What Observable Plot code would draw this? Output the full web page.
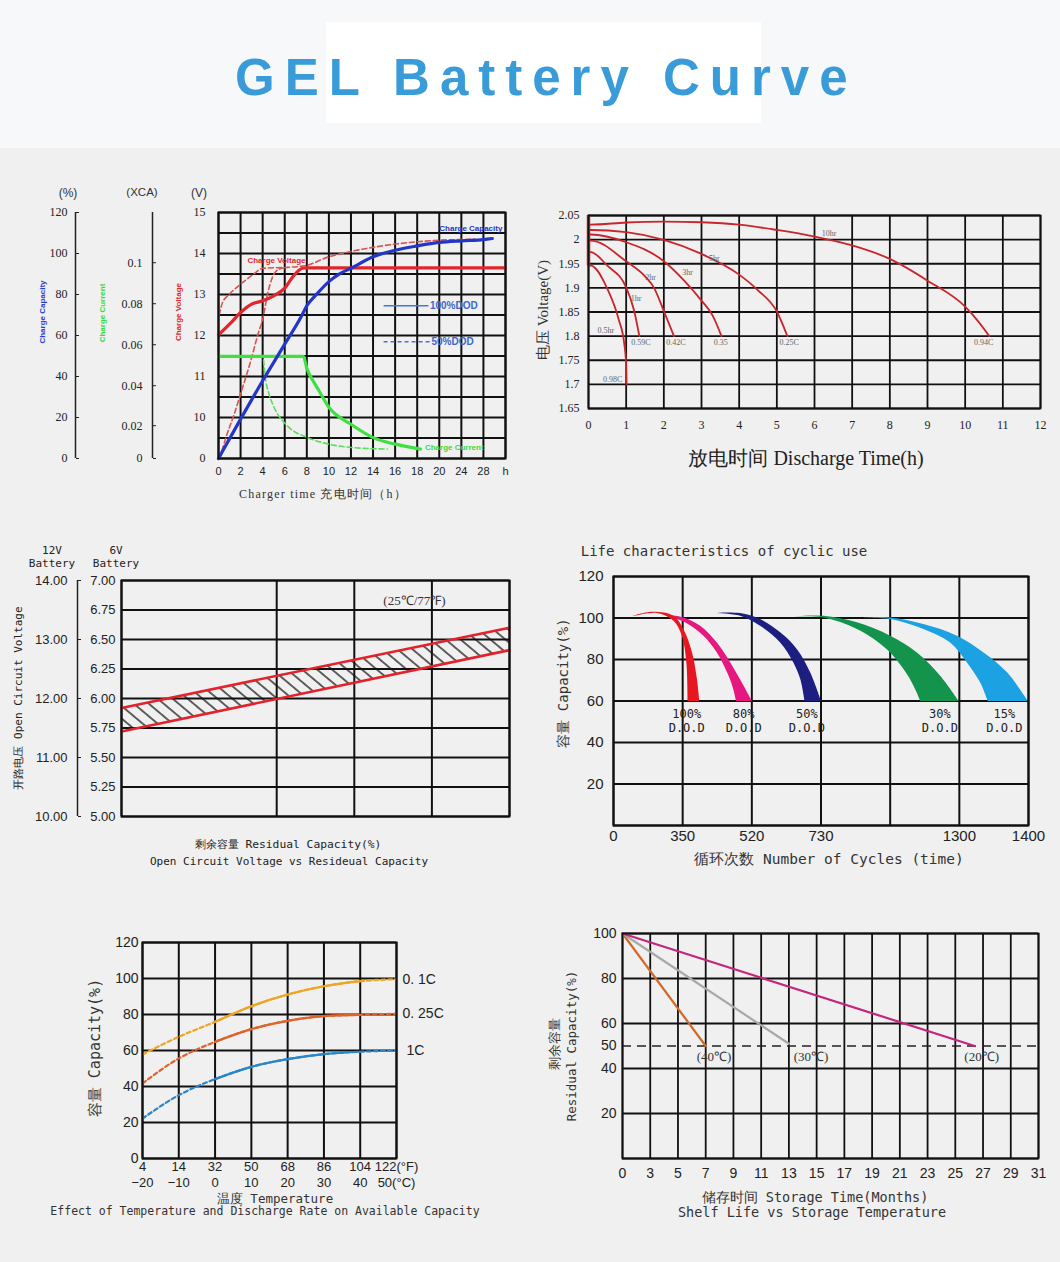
<!DOCTYPE html>
<html>
<head>
<meta charset="utf-8">
<title>GEL Battery Curve</title>
<script src="https://cdn.jsdelivr.net/npm/d3@7"></script>
<script src="https://cdn.jsdelivr.net/npm/@observablehq/plot@0.6"></script>
<style>
  html, body { margin: 0; padding: 0; }
  body { width: 1060px; height: 1262px; background: #f0f0f0; position: relative; overflow: hidden; }
  #header { position: absolute; left: 0; top: 0; width: 1060px; height: 148px; background: #f6f8fa; }
  #box { position: absolute; left: 326px; top: 22px; width: 435px; height: 101px; background: #ffffff; }
  #title { position: absolute; left: 235px; top: 52px; margin: 0; font: bold 51px/51px "Liberation Sans", Arial, sans-serif; letter-spacing: 10px; color: #3a9bd9; white-space: nowrap; }
  .lbl { position: absolute; white-space: nowrap; color: #222; line-height: 1; }
</style>
</head>
<body>
<div id="header"><div id="box"></div><h1 id="title">GEL Battery Curve</h1></div>
<svg width="0" height="0" style="position:absolute;left:0;top:0">
  <defs>
    <pattern id="hatch" patternUnits="userSpaceOnUse" width="10" height="9.6" patternTransform="rotate(40)">
      <line x1="0" y1="4.8" x2="10" y2="4.8" stroke="#111" stroke-width="1.3"/>
    </pattern>
  </defs>
</svg>
<script>
const SANS = '"Liberation Sans", Arial, Helvetica, sans-serif';
const SERIF = '"Liberation Serif", "Times New Roman", serif';
const MONO = '"DejaVu Sans Mono", "Liberation Mono", monospace';
const GRID = "#111";

// ---------------- Chart 1: charging characteristics ----------------
const chargeHourTicks = [0, 2, 4, 6, 8, 10, 12, 14, 16, 18, 20, 24, 28, 32];
const chargeHourLabels = ["0", "2", "4", "6", "8", "10", "12", "14", "16", "18", "20", "24", "28", "h"];
const chargeGridPct = [0, 10, 20, 30, 40, 50, 60, 70, 80, 90, 100, 110, 120];
const capacityTicks = [0, 20, 40, 60, 80, 100, 120];
const voltTickPos = [0, 20, 40, 60, 80, 100, 120];
const voltTickLabels = ["0", "10", "11", "12", "13", "14", "15"];
const xcaTickPos = [0, 16, 35.5, 55.5, 75.5, 95.5];
const xcaTickLabels = ["0", "0.02", "0.04", "0.06", "0.08", "0.1"];
// [hours, position on the % grid]
const capacity100 = [[0,0],[2,19.2],[4,37.9],[6,55.8],[7.5,69.3],[8,74.5],[8.9,80.2],[10,86.3],[11,90.2],[12,92.8],[14,98.4],[16,101.6],[18,103.7],[20,105.4],[24,106.2],[28,106.8],[29.6,107.3]];
const capacity50 = [[0.12,0],[0.66,10],[1.42,21.6],[2.18,34.6],[2.92,47.6],[3.58,60.7],[4.04,68.8],[4.44,80.2],[4.88,88.3],[5.5,92.4],[6.24,93.2]];
const voltage100 = [[0,60.3],[1,65.5],[2,71.2],[3,75.3],[4,76.9],[5,79.3],[6,83.1],[6.8,89.1],[7.6,92.8],[8,93],[32,93]];
const voltage50 = [[0.06,70],[0.36,76],[0.96,80],[2,85],[3.2,90],[4,92.8],[6,93.2],[7.8,94],[10,98.4],[12,101],[14,103],[16,104.6],[18,105.7],[20,106.5],[24,106.8],[26.4,107]];
const current100 = [[0,49.8],[7.7,49.8],[8,44],[8.5,38.5],[9,34],[10,25],[12,16.7],[14,10.2],[16,7],[18.3,4.6]];
const current50 = [[0,49.8],[4,49.8],[4.28,37.9],[4.58,31.4],[5.04,24.9],[6.24,15.9],[8.06,10.2],[10,7],[12,5.4],[15.3,4.6]];
const dodLegend = [
  {text: "100%DOD", y: 74.5, x1: 15, x2: 19.06},
  {text: "50%DOD", y: 56.9, x1: 15, x2: 19.2}
];
const chargeSeriesLabels = [
  {text: "Charge Capacity", x: 20, y: 112.2, color: "#2436c8"},
  {text: "Charge Voltage", x: 2.62, y: 96.7, color: "#e3262b"},
  {text: "Charge Current", x: 18.7, y: 5.4, color: "#3bd83b"}
];

// ---------------- Chart 2: discharge curves ----------------
const dischargeHours = [0,1,2,3,4,5,6,7,8,9,10,11,12];
const dischargeVolts = [1.65,1.7,1.75,1.8,1.85,1.9,1.95,2.0,2.05];
const discharge10hr = [[0.06,2.031],[1,2.0355],[2,2.0375],[3,2.036],[4,2.031],[5,2.02],[6,2.0064],[7,1.988],[8,1.96],[9,1.915],[10,1.861],[10.33,1.832],[10.64,1.8]];
const discharge5hr = [[0.06,2.02],[1,2.0154],[2,1.9995],[3,1.9704],[4,1.9275],[4.5,1.895],[5,1.851],[5.28,1.8]];
const discharge3hr = [[0.06,2.0106],[1,1.9946],[2,1.9552],[2.54,1.915],[3,1.8735],[3.3,1.842],[3.53,1.8]];
const discharge2hr = [[0.06,1.998],[1,1.955],[1.5,1.924],[1.74,1.9],[2.0,1.852],[2.27,1.8]];
const discharge1hr = [[0.06,1.974],[0.5,1.946],[1,1.901],[1.21,1.853],[1.35,1.8]];
const discharge05hr = [[0.06,1.946],[0.5,1.898],[0.8,1.835],[0.95,1.784],[1.0,1.74],[1.01,1.7]];
const dischargeCurves = [discharge10hr, discharge5hr, discharge3hr, discharge2hr, discharge1hr, discharge05hr];
const dischargeLabels = [
  {text: "10hr", x: 6.39, y: 2.012}, {text: "0.94C", x: 10.49, y: 1.787},
  {text: "5hr", x: 3.34, y: 1.96}, {text: "0.25C", x: 5.33, y: 1.787},
  {text: "3hr", x: 2.63, y: 1.932}, {text: "0.35", x: 3.51, y: 1.787},
  {text: "2hr", x: 1.65, y: 1.921}, {text: "0.42C", x: 2.32, y: 1.787},
  {text: "1hr", x: 1.26, y: 1.878}, {text: "0.59C", x: 1.39, y: 1.787},
  {text: "0.5hr", x: 0.46, y: 1.811}, {text: "0.98C", x: 0.64, y: 1.711}
];

// ---------------- Chart 3: open circuit voltage ----------------
const residualCapacity = [0, 100];
const ocvUpper6V = [5.92, 6.60];
const ocvLower6V = [5.72, 6.41];
const ocv6VTicks = [5.0, 5.25, 5.5, 5.75, 6.0, 6.25, 6.5, 6.75, 7.0];
const ocv12VPos = [5.0, 5.5, 6.0, 6.5, 7.0];
const ocv12VLabels = ["10.00", "11.00", "12.00", "13.00", "14.00"];
const residualGrid = [0, 40, 60, 80, 100];
const ocvNote = [{text: "(25℃/77℉)", x: 75.5, y: 6.83}];

// ---------------- Chart 4: cycle life ----------------
const cycleTicks = [0, 350, 520, 730, 1015, 1300, 1400];
const cycleLabels = ["0", "350", "520", "730", "", "1300", "1400"];
const cycleCapTicks = [20, 40, 60, 80, 100, 120];
const cycleGrid = [0, 20, 40, 60, 80, 100, 120];
const dodBands = [
  {dod: "15%", color: "#1ca2e2", labelX: 1365, start: [905,100.3],
   outer: [[1015,100.3],[1152,97.1],[1290,91.5],[1335,83.4],[1369,73.8],[1399,60]],
   inner: [[1015,99.5],[1152,94.7],[1262,88.2],[1311,78.6],[1330,69.0],[1341,60]]},
  {dod: "30%", color: "#14934c", labelX: 1220, start: [652,100.8],
   outer: [[740,101.1],[878,97.9],[1015,91.5],[1125,83.4],[1221,72.2],[1297,60]],
   inner: [[740,100.3],[878,94.7],[1001,85.0],[1070,75.4],[1111,67.4],[1139,60]]},
  {dod: "50%", color: "#1c1f80", labelX: 687, start: [434,102.4],
   outer: [[491,102.4],[545,99.5],[606,93.1],[657,85.0],[697,73.8],[730,60]],
   inner: [[491,101.1],[545,96.3],[606,88.2],[646,78.6],[667,70.6],[680,60]]},
  {dod: "80%", color: "#e6177f", labelX: 500, start: [270,101.4],
   outer: [[352,100.3],[393,96.3],[434,88.2],[467,78.6],[495,69.0],[520,60]],
   inner: [[360,97.5],[401,91.4],[434,83.4],[459,73.8],[473,66.6],[481,60]]},
  {dod: "100%", color: "#e8161e", labelX: 360, start: [93,100.8],
   outer: [[194,103.0],[303,101.1],[352,94.6],[373,83.4],[385,70.6],[391,60]],
   inner: [[219,102.4],[303,98.7],[346,91.5],[359,78.6],[362,60]]}
];

// ---------------- Chart 5: temperature effect ----------------
const tempC = [-20, -10, 0, 10, 20, 30, 40, 50];
const tempCLabels = ["−20", "−10", "0", "10", "20", "30", "40", "50(°C)"];
const tempFLabels = ["4", "14", "32", "50", "68", "86", "104", "122(°F)"];
const tempCapTicks = [0, 20, 40, 60, 80, 100, 120];
const cap01C = [57.8, 67.6, 75.9, 84.6, 91.1, 95.7, 98.5, 99.6];
const cap025C = [41.7, 55.6, 64.8, 71.9, 76.5, 79.1, 79.8, 80.4];
const cap1C = [22.2, 35.2, 44.1, 50.9, 55.2, 58.0, 59.3, 60.0];
const rateSeries = [
  {name: "0. 1C", values: cap01C, color: "#eda522", dx: 6},
  {name: "0. 25C", values: cap025C, color: "#e0632a", dx: 6},
  {name: "1C", values: cap1C, color: "#2a86c9", dx: 10}
];

// ---------------- Chart 6: shelf life ----------------
const storageTicks = [0, 3, 5, 7, 9, 11, 13, 15, 17, 19, 21, 23, 25, 27, 29, 31];
const storageCapTicks = [20, 40, 50, 60, 80, 100];
const storageGrid = [0, 20, 40, 60, 80, 100];
const shelfSeries = [
  {temp: "(40℃)", months: [0, 7], capacity: [100, 50], color: "#d0692a", labelMonth: 7.6},
  {temp: "(30℃)", months: [0, 13], capacity: [100, 51], color: "#a8a8a8", labelMonth: 14.6},
  {temp: "(20℃)", months: [0, 26.4], capacity: [100, 50], color: "#c4267c", labelMonth: 26.9}
];

// ---------------- helpers ----------------
const root = document.body;
function place(svg, left, top) {
  svg.style.position = "absolute";
  svg.style.left = left + "px";
  svg.style.top = top + "px";
  root.appendChild(svg);
}
function label(txt, cx, cy, style = {}, rot = 0) {
  const d = document.createElement("div");
  d.className = "lbl";
  d.textContent = txt;
  Object.assign(d.style, {left: cx + "px", top: cy + "px", transform: `translate(-50%,-50%) rotate(${rot}deg)`}, style);
  root.appendChild(d);
}
const baseStyle = {background: "transparent", overflow: "visible", color: "#222"};
// axis positions for the non-uniform category axes (grid column index)
const hourPos = d3.scaleLinear().domain([0, 20, 32]).range([0, 10, 13]);
const cyclePos = d3.scaleLinear().domain(cycleTicks).range(cycleTicks.map((_, i) => i));
const monthPos = d3.scaleLinear().domain([0, 3, 31]).range([0, 1, 15]);
const pl = (data, opts) => Plot.line(data, {x: d => d[0], y: d => d[1], ...opts});
const plH = (data, opts) => Plot.line(data, {x: d => hourPos(d[0]), y: d => d[1], ...opts});

// ---------------- Chart 1 ----------------
const c1 = Plot.plot({
  width: 530, height: 330, marginLeft: 218, marginRight: 25, marginTop: 32, marginBottom: 52,
  style: {...baseStyle, fontFamily: SANS},
  x: {domain: [0, 13], label: null},
  y: {domain: [0, 120], label: null},
  marks: [
    Plot.ruleX(chargeHourTicks, {x: d => hourPos(d), stroke: GRID, strokeWidth: 2}),
    Plot.ruleY(chargeGridPct, {stroke: GRID, strokeWidth: 2}),
    plH(capacity50, {stroke: "#d9534f", strokeWidth: 1.6, strokeDasharray: "5,3", curve: "monotone-x"}),
    plH(voltage50, {stroke: "#d9534f", strokeWidth: 1.6, strokeDasharray: "5,3", curve: "monotone-x"}),
    plH(current50, {stroke: "#5bdc5b", strokeWidth: 1.6, strokeDasharray: "5,3", curve: "monotone-x"}),
    plH(current100, {stroke: "#3fe03f", strokeWidth: 3.2, curve: "monotone-x"}),
    plH(voltage100, {stroke: "#e3262b", strokeWidth: 3.2, curve: "monotone-x"}),
    plH(capacity100, {stroke: "#2436c8", strokeWidth: 3.2, curve: "monotone-x"}),
    Plot.ruleY([dodLegend[0]], {y: "y", x1: d => hourPos(d.x1), x2: d => hourPos(d.x2), stroke: "#3f79e0", strokeWidth: 1.5}),
    Plot.ruleY([dodLegend[1]], {y: "y", x1: d => hourPos(d.x1), x2: d => hourPos(d.x2), stroke: "#3f79e0", strokeWidth: 1.5, strokeDasharray: "4,3"}),
    Plot.text(dodLegend, {x: d => hourPos(d.x2), y: "y", text: "text", textAnchor: "start", dx: 1, fill: "#3a66d0", fontWeight: "bold", fontSize: 10, fontFamily: SANS}),
    ...chargeSeriesLabels.map(l => Plot.text([l], {x: d => hourPos(d.x), y: "y", text: "text", textAnchor: "start", fill: l.color, fontWeight: "bold", fontSize: 8, fontFamily: SANS})),
    Plot.frame({stroke: GRID, strokeWidth: 2}),
    Plot.axisX(chargeHourTicks.map(d => hourPos(d)), {tickSize: 0, tickPadding: 9, tickFormat: (d, i) => chargeHourLabels[i], fontSize: 11, fontFamily: SANS}),
    Plot.axisY(voltTickPos, {anchor: "left", tickSize: 0, tickPadding: 13, tickFormat: d => voltTickLabels[voltTickPos.indexOf(d)], fontSize: 12, fontFamily: SERIF}),
    Plot.ruleX([0], {dx: -143, stroke: "#222", strokeWidth: 1.5}),
    Plot.axisY(capacityTicks, {anchor: "left", tickSize: 0, tickPadding: 8, dx: -143, fontSize: 12, fontFamily: SERIF}),
    Plot.axisY(capacityTicks, {anchor: "right", tickSize: 3, dx: -430, tickFormat: () => ""}),
    Plot.ruleX([0], {dx: -66, stroke: "#222", strokeWidth: 1.5}),
    Plot.axisY(xcaTickPos, {anchor: "left", tickSize: 0, tickPadding: 10, dx: -66, tickFormat: d => xcaTickLabels[xcaTickPos.indexOf(d)], fontSize: 12, fontFamily: SERIF}),
    Plot.axisY(xcaTickPos, {anchor: "right", tickSize: 3, dx: -353, tickFormat: () => ""})
  ]
});
place(c1, 0, 180);
label("(%)", 68, 193, {fontFamily: SANS, fontSize: "12px", color: "#333"});
label("(XCA)", 142, 193, {fontFamily: SANS, fontSize: "11.5px", color: "#333"});
label("(V)", 199, 193, {fontFamily: SANS, fontSize: "12px", color: "#333"});
label("Charge Capacity", 43, 312, {fontFamily: SANS, fontSize: "8px", fontWeight: "bold", color: "#2b3fd6"}, -90);
label("Charge Current", 103, 313, {fontFamily: SANS, fontSize: "8px", fontWeight: "bold", color: "#3bd83b"}, -90);
label("Charge Voltage", 179, 312, {fontFamily: SANS, fontSize: "8px", fontWeight: "bold", color: "#e02a2a"}, -90);
label("Charger time  充电时间（h）", 323, 494, {fontFamily: SERIF, fontSize: "12px", letterSpacing: "1.2px", color: "#333"});

// ---------------- Chart 2 ----------------
const c2 = Plot.plot({
  width: 530, height: 280, marginLeft: 58, marginRight: 20, marginTop: 15, marginBottom: 72,
  style: {...baseStyle, fontFamily: SERIF},
  x: {domain: [0, 12], label: null},
  y: {domain: [1.65, 2.05], label: null},
  marks: [
    Plot.ruleX(dischargeHours, {stroke: GRID, strokeWidth: 1.8}),
    Plot.ruleY(dischargeVolts, {stroke: GRID, strokeWidth: 1.8}),
    Plot.ruleX([0], {y1: d3.min(dischargeCurves, c => c[0][1]), y2: 2.05, stroke: "#d42a2a", strokeWidth: 3.5}),
    ...dischargeCurves.map(c => pl([[0, c[0][1]], ...c], {stroke: "#c8262c", strokeWidth: 1.8, curve: "monotone-x"})),
    Plot.text(dischargeLabels, {x: "x", y: "y", text: "text", fill: "#666", fontSize: 8, fontFamily: SERIF}),
    Plot.frame({stroke: GRID, strokeWidth: 1.8}),
    Plot.axisX(dischargeHours, {tickSize: 0, tickPadding: 12, fontSize: 12, fontFamily: SERIF}),
    Plot.axisY(dischargeVolts, {tickSize: 0, tickPadding: 9, tickFormat: d => String(+d.toFixed(2)), fontSize: 12, fontFamily: SERIF})
  ]
});
place(c2, 530, 200);
label("放电时间 Discharge Time(h)", 806, 458, {fontFamily: SERIF, fontSize: "20px", color: "#222"});
label("电压 Voltage(V)", 543, 310, {fontFamily: SERIF, fontSize: "15px", color: "#333"}, -90);

// ---------------- Chart 3 ----------------
const ocvRows = residualCapacity.map((r, i) => ({r, lo: ocvLower6V[i], hi: ocvUpper6V[i]}));
const c3 = Plot.plot({
  width: 530, height: 340, marginLeft: 121, marginRight: 21, marginTop: 45, marginBottom: 59,
  style: {...baseStyle, fontFamily: SANS},
  x: {domain: [0, 100], axis: null, label: null},
  y: {domain: [5, 7], label: null},
  marks: [
    Plot.ruleY(ocv6VTicks, {stroke: GRID, strokeWidth: 2}),
    Plot.ruleX(residualGrid, {stroke: GRID, strokeWidth: 2}),
    Plot.areaY(ocvRows, {x: "r", y1: "lo", y2: "hi", fill: "url(#hatch)"}),
    Plot.line(ocvRows, {x: "r", y: "hi", stroke: "#e3222b", strokeWidth: 2.6}),
    Plot.line(ocvRows, {x: "r", y: "lo", stroke: "#e3222b", strokeWidth: 2.6}),
    Plot.text(ocvNote, {x: "x", y: "y", text: "text", fontSize: 13, fontFamily: SERIF, fill: "#333"}),
    Plot.frame({stroke: GRID, strokeWidth: 2}),
    Plot.axisY(ocv6VTicks, {tickSize: 0, tickPadding: 6, tickFormat: d => d.toFixed(2), fontSize: 13, fontFamily: SANS}),
    Plot.ruleX([0], {dx: -44, stroke: "#222", strokeWidth: 1.5}),
    Plot.axisY(ocv12VPos, {anchor: "left", tickSize: 0, tickPadding: 10, dx: -44, tickFormat: d => ocv12VLabels[ocv12VPos.indexOf(d)], fontSize: 13, fontFamily: SANS}),
    Plot.axisY(ocv12VPos, {anchor: "right", tickSize: 3, dx: -432, tickFormat: () => ""})
  ]
});
place(c3, 0, 535);
label("12V", 52, 550, {fontFamily: MONO, fontSize: "11px"});
label("Battery", 52, 563, {fontFamily: MONO, fontSize: "11px"});
label("6V", 116, 550, {fontFamily: MONO, fontSize: "11px"});
label("Battery", 116, 563, {fontFamily: MONO, fontSize: "11px"});
label("开路电压 Open Circuit Voltage", 18, 698, {fontFamily: MONO, fontSize: "11px"}, -90);
label("剩余容量  Residual Capacity(%)", 288, 845, {fontFamily: MONO, fontSize: "11.3px"});
label("Open Circuit Voltage vs Resideual Capacity", 289, 861, {fontFamily: MONO, fontSize: "11px"});

// ---------------- Chart 4 ----------------
const c4 = Plot.plot({
  width: 520, height: 340, marginLeft: 73, marginRight: 32, marginTop: 41, marginBottom: 50,
  style: {...baseStyle, fontFamily: SANS},
  x: {domain: [0, 6], label: null},
  y: {domain: [0, 120], label: null},
  marks: [
    Plot.ruleX(cycleTicks, {x: d => cyclePos(d), stroke: GRID, strokeWidth: 2}),
    Plot.ruleY(cycleGrid, {stroke: GRID, strokeWidth: 2}),
    ...dodBands.map(b => Plot.line([...b.inner.slice().reverse(), b.start, ...b.outer],
      {x: d => cyclePos(d[0]), y: d => d[1], fill: b.color, stroke: "none", curve: "catmull-rom"})),
    Plot.text(dodBands, {x: d => cyclePos(d.labelX), y: () => 53.7, text: d => d.dod, fontSize: 12, fontFamily: MONO, fill: "#222"}),
    Plot.text(dodBands, {x: d => cyclePos(d.labelX), y: () => 46.8, text: () => "D.O.D", fontSize: 12, fontFamily: MONO, fill: "#222"}),
    Plot.frame({stroke: GRID, strokeWidth: 2}),
    Plot.axisX(cycleTicks.map(d => cyclePos(d)), {tickSize: 0, tickPadding: 5, tickFormat: (d, i) => cycleLabels[i], fontSize: 15, fontFamily: SANS}),
    Plot.axisY(cycleCapTicks, {tickSize: 0, tickPadding: 10, fontSize: 15, fontFamily: SANS})
  ]
});
place(c4, 540, 535);
label("Life characteristics of cyclic use", 724, 551, {fontFamily: MONO, fontSize: "14px", color: "#333"});
label("容量 Capacity(%)", 563, 683, {fontFamily: MONO, fontSize: "14px", color: "#333"}, -90);
label("循环次数 Number of Cycles (time)", 829, 859, {fontFamily: MONO, fontSize: "14.5px", color: "#333"});

// ---------------- Chart 5 ----------------
const c5 = Plot.plot({
  width: 490, height: 300, marginLeft: 102, marginRight: 134, marginTop: 17, marginBottom: 67,
  style: {...baseStyle, fontFamily: SANS},
  x: {domain: [-20, 50], label: null},
  y: {domain: [0, 120], label: null},
  marks: [
    Plot.ruleX(tempC, {stroke: GRID, strokeWidth: 2}),
    Plot.ruleY(tempCapTicks, {stroke: GRID, strokeWidth: 2}),
    ...rateSeries.map(s => Plot.line(tempC, {x: d => d, y: (d, i) => s.values[i], stroke: s.color, strokeWidth: 2.2, strokeDasharray: "4,3", curve: "monotone-x"})),
    ...rateSeries.map(s => Plot.line(tempC.filter(t => t >= 0 && t <= 40), {x: d => d, y: d => s.values[tempC.indexOf(d)], stroke: s.color, strokeWidth: 2.2, curve: "monotone-x"})),
    ...rateSeries.map(s => Plot.text([s], {x: () => 50, y: d => d.values[d.values.length - 1], text: "name", textAnchor: "start", dx: s.dx, fontSize: 14, fontFamily: SANS, fill: "#222"})),
    Plot.frame({stroke: GRID, strokeWidth: 2}),
    Plot.axisX(tempC, {tickSize: 0, tickPadding: 3, tickFormat: d => tempFLabels[tempC.indexOf(d)], fontSize: 13, fontFamily: SANS}),
    Plot.axisX(tempC, {tickSize: 0, tickPadding: 19, tickFormat: d => tempCLabels[tempC.indexOf(d)], fontSize: 13, fontFamily: SANS}),
    Plot.axisY(tempCapTicks, {tickSize: 0, tickPadding: 4, fontSize: 14, fontFamily: SANS})
  ]
});
place(c5, 40, 925);
label("容量 Capacity(%)", 95, 1048, {fontFamily: MONO, fontSize: "15px", color: "#333"}, -90);
label("温度 Temperature", 275, 1199, {fontFamily: MONO, fontSize: "12.5px", color: "#333"});
label("Effect of Temperature and Discharge Rate on Available Capacity", 265, 1212, {fontFamily: MONO, fontSize: "11.5px", color: "#333"});

// ---------------- Chart 6 ----------------
const c6 = Plot.plot({
  width: 520, height: 305, marginLeft: 82, marginRight: 22, marginTop: 13, marginBottom: 67,
  style: {...baseStyle, fontFamily: SANS},
  x: {domain: [0, 15], label: null},
  y: {domain: [0, 100], label: null},
  marks: [
    Plot.ruleX(storageTicks, {x: d => monthPos(d), stroke: GRID, strokeWidth: 1.8}),
    Plot.ruleY(storageGrid, {stroke: GRID, strokeWidth: 1.8}),
    Plot.ruleY([50], {stroke: "#222", strokeWidth: 1.5, strokeDasharray: "9,6"}),
    ...shelfSeries.map(s => Plot.line(s.months, {x: d => monthPos(d), y: (d, i) => s.capacity[i], stroke: s.color, strokeWidth: 2.2})),
    Plot.text(shelfSeries, {x: d => monthPos(d.labelMonth), y: () => 50, dy: 11, text: "temp", fontSize: 13, fontFamily: SERIF, fill: "#333"}),
    Plot.frame({stroke: GRID, strokeWidth: 1.8}),
    Plot.axisX(storageTicks.map(d => monthPos(d)), {tickSize: 0, tickPadding: 10, tickFormat: (d, i) => String(storageTicks[i]), fontSize: 14, fontFamily: SANS}),
    Plot.axisY(storageCapTicks, {tickSize: 0, tickPadding: 6, fontSize: 14, fontFamily: SANS})
  ]
});
place(c6, 540, 920);
label("剩余容量", 555, 1044, {fontFamily: MONO, fontSize: "12.5px", color: "#333"}, -90);
label("Residual Capacity(%)", 572, 1046, {fontFamily: MONO, fontSize: "12.5px", color: "#333"}, -90);
label("储存时间 Storage Time(Months)", 815, 1198, {fontFamily: MONO, fontSize: "13.5px", color: "#333"});
label("Shelf Life vs Storage Temperature", 812, 1213, {fontFamily: MONO, fontSize: "13.5px", color: "#333"});
</script>
</body>
</html>
